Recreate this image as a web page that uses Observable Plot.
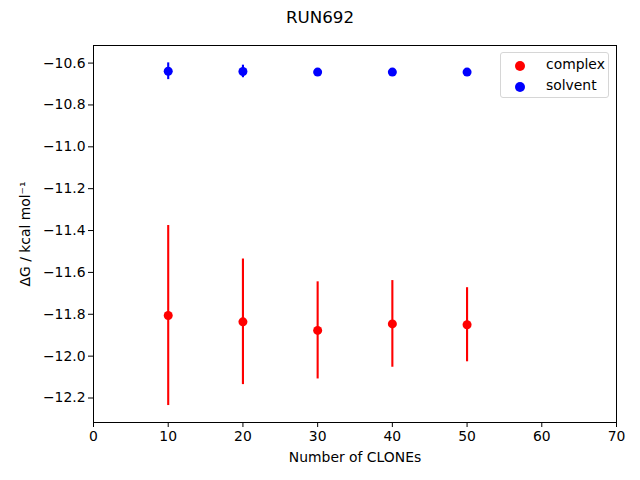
<!DOCTYPE html>
<html>
<head>
<meta charset="utf-8">
<script src="https://cdn.jsdelivr.net/npm/d3@7"></script>
<script src="https://cdn.jsdelivr.net/npm/@observablehq/plot@0.6"></script>
<style>
  html, body { margin: 0; padding: 0; background: #fff; }
  #wrap { position: relative; width: 640px; height: 480px; font-family: "DejaVu Sans", sans-serif; }
  #title { position: absolute; left: 0; top: 7px; width: 640px; text-align: center; font-size: 16.7px; color: #000; }
  #chart { position: absolute; left: 0; top: 0; }
  #legend { position: absolute; left: 500px; top: 52px; width: 107px; height: 44px; border: 1px solid #d6d6d6; border-radius: 3px; background: rgba(255,255,255,0.8); font-size: 13.9px; }
  .item { position: absolute; left: 0; height: 20px; width: 107px; }
  .dot { position: absolute; left: 14px; top: 5px; width: 10px; height: 10px; border-radius: 50%; }
  .lab { position: absolute; left: 45px; top: -2px; line-height: 20px; color: #000; }
</style>
</head>
<body>
<div id="wrap">
  <div id="chart"></div>
  <div id="title"></div>
  <div id="legend"></div>
</div>
<script>
const title = "RUN692";
const xLabel = "Number of CLONEs";
const yLabel = "ΔG / kcal mol⁻¹";
const clones = [10, 20, 30, 40, 50];
const complexMean = [-11.806, -11.836, -11.877, -11.846, -11.850];
const complexErr = [0.430, 0.300, 0.232, 0.207, 0.177];
const solventMean = [-10.639, -10.640, -10.643, -10.643, -10.643];
const solventErr = [0.040, 0.030, 0.015, 0.015, 0.015];
const seriesNames = ["complex", "solvent"];
const seriesColors = ["#ff0000", "#0000ff"];
const xTicks = [0, 10, 20, 30, 40, 50, 60, 70];
const yTicks = [-12.2, -12.0, -11.8, -11.6, -11.4, -11.2, -11.0, -10.8, -10.6];

const rows = [];
clones.forEach((c, i) => {
  rows.push({series: "complex", x: c, y: complexMean[i], lo: complexMean[i] - complexErr[i], hi: complexMean[i] + complexErr[i]});
  rows.push({series: "solvent", x: c, y: solventMean[i], lo: solventMean[i] - solventErr[i], hi: solventMean[i] + solventErr[i]});
});

const fmt = d => d.toFixed(1).replace("-", "\u2212");

const plot = Plot.plot({
  width: 640,
  height: 480,
  marginLeft: 93,
  marginRight: 24,
  marginTop: 45,
  marginBottom: 58,
  style: {fontFamily: "DejaVu Sans, sans-serif", fontSize: "13.9px", color: "#000", background: "#fff"},
  x: {domain: [0, 70], ticks: xTicks, tickFormat: d => String(d), label: null},
  y: {domain: [-12.317, -10.516], ticks: yTicks, tickFormat: fmt, label: null},
  color: {domain: seriesNames, range: seriesColors},
  marks: [
    Plot.frame({stroke: "#000", strokeWidth: 1}),
    Plot.axisX({ticks: xTicks, tickFormat: d => String(d), tickSize: 5, tickPadding: 4, label: xLabel, labelAnchor: "center", labelArrow: "none", labelOffset: 39}),
    Plot.axisY({ticks: yTicks, tickFormat: fmt, tickSize: 5, tickPadding: 3, label: yLabel, labelAnchor: "center", labelArrow: "none", labelOffset: 73}),
    Plot.ruleX(rows, {x: "x", y1: "lo", y2: "hi", stroke: "series", strokeWidth: 2.1}),
    Plot.dot(rows, {x: "x", y: "y", fill: "series", r: 4.5, stroke: null})
  ]
});
document.getElementById("chart").appendChild(plot);
document.getElementById("title").textContent = title;

const leg = document.getElementById("legend");
seriesNames.forEach((name, i) => {
  const it = document.createElement("div");
  it.className = "item";
  it.style.top = (3 + i * 21) + "px";
  const dot = document.createElement("div");
  dot.className = "dot";
  dot.style.background = seriesColors[i];
  const lab = document.createElement("div");
  lab.className = "lab";
  lab.textContent = name;
  it.appendChild(dot);
  it.appendChild(lab);
  leg.appendChild(it);
});
</script>
</body>
</html>
